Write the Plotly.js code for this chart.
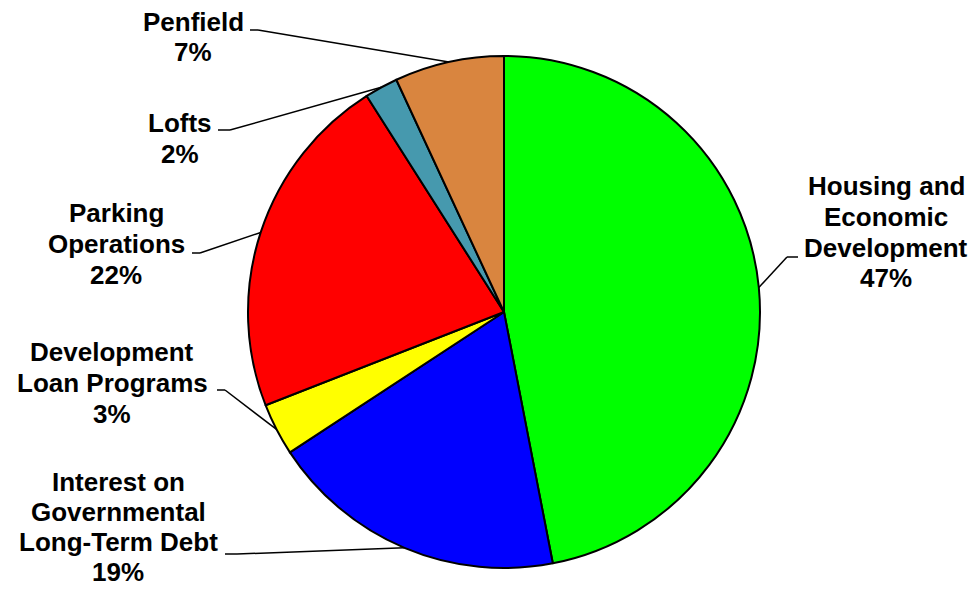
<!DOCTYPE html>
<html>
<head>
<meta charset="utf-8">
<script src="https://cdn.plot.ly/plotly-3.0.1.min.js"></script>
<style>html,body{margin:0;padding:0;background:#fff;}#chart{width:977px;height:590px;}</style>
</head>
<body>
<div id="chart"></div>
<script>
// ---- data ----
const categories = ['Housing and Economic Development', 'Interest on Governmental Long-Term Debt', 'Development Loan Programs', 'Parking Operations', 'Lofts', 'Penfield'];
const values = [46.9, 18.8, 3.3, 21.9, 2.1, 6.9];
const labelLines = [
  ['Housing and', 'Economic', 'Development'],
  ['Interest on', 'Governmental', 'Long-Term Debt'],
  ['Development', 'Loan Programs'],
  ['Parking', 'Operations'],
  ['Lofts'],
  ['Penfield']
];
const sliceColors = ['#00FF00', '#0000FF', '#FFFF00', '#FF0000', '#4699AE', '#D9853F'];

// ---- layout constants (pixels) ----
const W = 977, H = 590;
const CX = 504, CY = 312, R = 256;
const labelCenter = [[886, 232], [118, 527], [112, 383], [116, 244], [180, 138], [193, 37]];
const labelGap = [31, 30, 31, 31, 31, 30];
const leaderStart = [[798, 257], [225, 554], [217, 390], [192, 253], [218, 130], [250, 30]];
const leaderElbow = [[787, 257], [237, 554], [225, 390], [200, 253], [230, 130], [258, 30]];

const px = x => x / W;
const py = y => 1 - y / H;

const total = values.reduce((a, b) => a + b, 0);
const annotations = [];
const shapes = [];
let cum = 0;
values.forEach((v, i) => {
  const pct = Math.round(v / total * 100) + '%';
  const lines = labelLines[i].concat([pct]);
  const n = lines.length;
  lines.forEach((t, j) => {
    annotations.push({
      x: px(labelCenter[i][0]), y: py(labelCenter[i][1] + (j - (n - 1) / 2) * labelGap[i]),
      xref: 'paper', yref: 'paper', text: t, showarrow: false,
      xanchor: 'center', yanchor: 'middle',
      font: {family: 'Liberation Sans, Arial, sans-serif', size: 26, color: '#000', weight: 'bold'}
    });
  });
  const mid = (cum + v / 2) / total * 2 * Math.PI;
  cum += v;
  const ex = CX + R * Math.sin(mid), ey = CY - R * Math.cos(mid);
  const ln = {color: '#000', width: 1.5};
  shapes.push({type: 'line', xref: 'paper', yref: 'paper', x0: px(leaderStart[i][0]), y0: py(leaderStart[i][1]), x1: px(leaderElbow[i][0]), y1: py(leaderElbow[i][1]), line: ln});
  shapes.push({type: 'line', xref: 'paper', yref: 'paper', x0: px(leaderElbow[i][0]), y0: py(leaderElbow[i][1]), x1: px(ex), y1: py(ey), line: ln});
});

const trace = {
  type: 'pie',
  labels: categories,
  values: values,
  sort: false,
  direction: 'clockwise',
  rotation: 0,
  textinfo: 'none',
  hoverinfo: 'label+percent',
  marker: {colors: sliceColors, line: {color: '#000', width: 2}},
  domain: {x: [(CX - R) / W, (CX + R) / W], y: [1 - (CY + R) / H, 1 - (CY - R) / H]},
  showlegend: false
};

Plotly.newPlot('chart', [trace], {
  width: W, height: H,
  margin: {l: 0, r: 0, t: 0, b: 0},
  paper_bgcolor: '#fff',
  showlegend: false,
  annotations: annotations,
  shapes: shapes
}, {displayModeBar: false, staticPlot: true});
</script>
</body>
</html>
